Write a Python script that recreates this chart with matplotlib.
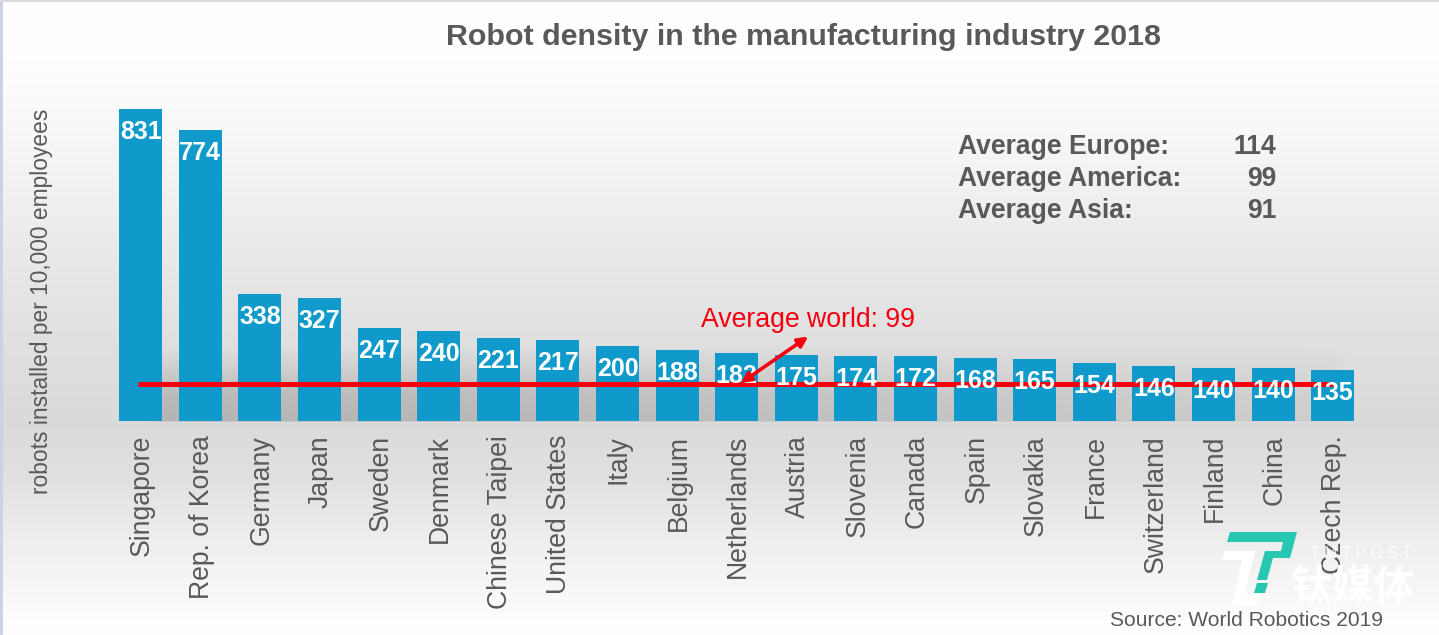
import numpy as np
import matplotlib
matplotlib.use("Agg")
import matplotlib.pyplot as plt
from matplotlib.patches import Polygon

plt.rcParams['font.family'] = ['Liberation Sans', 'Noto Sans CJK SC', 'DejaVu Sans']

countries = ["Singapore", "Rep. of Korea", "Germany", "Japan", "Sweden", "Denmark",
             "Chinese Taipei", "United States", "Italy", "Belgium", "Netherlands",
             "Austria", "Slovenia", "Canada", "Spain", "Slovakia", "France",
             "Switzerland", "Finland", "China", "Czech Rep."]
density = [831, 774, 338, 327, 247, 240, 221, 217, 200, 188, 182,
           175, 174, 172, 168, 165, 154, 146, 140, 140, 135]
world_average = 99
region_names = ["Average Europe:", "Average America:", "Average Asia:"]
region_values = [114, 99, 91]

W, H = 1439, 635
BASE_Y, PX_PER_UNIT = 421, 0.3755
X0, DX = 140.7, 59.6
BLUE, RED, GREY = "#0f9acb", "#f5000f", "#595959"

fig = plt.figure(figsize=(W/100, H/100), dpi=100)
ax = fig.add_axes([0, 0, 1, 1])
ax.set_xlim(-X0/DX, (W-X0)/DX)
ax.set_ylim(-(H-BASE_Y)/PX_PER_UNIT, BASE_Y/PX_PER_UNIT)
ax.axis("off")

# background gradient with the soft shadow at the foot of the bars
yy = np.arange(H)
g = np.interp(yy, [0, 60, 130, 230, 330, 420, 480, 540, 590, 625, 635],
              [255, 254, 248, 236, 225, 218, 225, 238, 247, 254, 255])
bg = np.repeat(g[:, None], W, axis=1)
xx = np.arange(W)
strength = np.interp(xx, [140, 165, 500, 1000, 1330, 1350], [0, 38, 34, 20, 12, 0])
band = np.interp(yy, [345, 395, 420, 422], [0, 0.9, 1, 0])
bg = bg - band[:, None]*strength[None, :]
rgb = np.dstack([bg, bg, bg])/255
rgb[:, :3] = [0.80, 0.83, 0.88]
rgb[:2, :] = [0.85, 0.85, 0.87]
ax.imshow(rgb, extent=ax.get_xlim()+ax.get_ylim(), aspect="auto", origin="upper", zorder=0)

x = np.arange(len(countries))
ax.bar(x, density, width=43/DX, color=BLUE, zorder=2)
ax.plot([x[0]-0.04, x[-1]], [world_average]*2, color=RED, lw=3.6, solid_capstyle="butt", zorder=3)

for xi, v in zip(x, density):
    ax.annotate(str(v), (xi, v), xytext=(0, -23*0.72), textcoords="offset points",
                ha="center", va="center", color="white", fontweight="bold", fontsize=18, zorder=5)

for xi, name in zip(x, countries):
    ax.annotate(name, (xi, 0), xytext=(1, -14*0.72), textcoords="offset points", rotation=90,
                ha="center", va="top", color=GREY, fontsize=19.2, zorder=4)

# arrow pointing from the callout to the world-average line
ax.annotate("", xy=(10.07, world_average+2), xytext=(11.2, world_average+126),
            arrowprops=dict(arrowstyle="<|-|>", color=RED, lw=2.6, mutation_scale=15,
                            shrinkA=0, shrinkB=0), zorder=6)

T = fig.transFigure
def txt(px, py, s, **kw):
    fig.text(px/W, 1-py/H, s, **kw)

txt(803, 37, "Robot density in the manufacturing industry 2018", ha="center", va="center",
    fontsize=21.9, fontweight="bold", color=GREY)
txt(808, 320, f"Average world: {world_average}", ha="center", va="center", fontsize=19.2, color=RED)
txt(42, 301, "robots installed per 10,000 employees", ha="center", va="center", rotation=90,
    fontsize=16.4, color=GREY)
for py, name, v in zip([147, 179, 211], region_names, region_values):
    txt(958, py, name, ha="left", va="center", fontsize=19.1, fontweight="bold", color=GREY)
    txt(1276, py, str(v), ha="right", va="center", fontsize=19.1, fontweight="bold", color=GREY)
txt(1247, 621, "Source: World Robotics 2019", ha="center", va="center", fontsize=15.1, color=GREY)

# publisher watermark
def poly(pts, c):
    fig.patches.append(Polygon([(a/W, 1-b/H) for a, b in pts], closed=True, fc=c, ec="none",
                               transform=T, zorder=8))
TEAL = "#27c7b1"
poly([(1230, 532), (1297, 532), (1290, 558), (1273, 558), (1267, 580), (1257, 580),
      (1265, 551), (1281, 551), (1283, 542), (1227, 542)], TEAL)
poly([(1257, 583), (1268, 583), (1265, 593), (1254, 593)], TEAL)
poly([(1225, 551), (1255, 551), (1245, 594), (1260, 594), (1257, 605), (1232, 605),
      (1242, 560), (1222, 560)], "white")
txt(1361, 554, "T M T P O S T", ha="center", va="center", fontsize=11.5, color="white", alpha=0.85)
txt(1352, 589, "钛媒体", ha="center", va="center", fontsize=30, color="white", fontweight="bold")

fig.savefig("out.png", dpi=100)
